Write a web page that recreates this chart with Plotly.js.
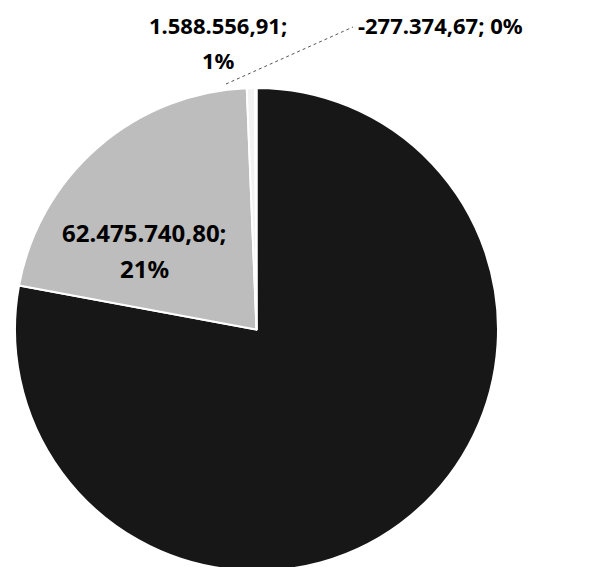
<!DOCTYPE html>
<html><head><meta charset="utf-8">
<script src="https://cdn.plot.ly/plotly-3.0.1.min.js"></script>
<style>html,body{margin:0;padding:0;overflow:hidden;background:#fff}#chart{width:597px;height:571px}</style>
</head><body><div id="chart"></div>
<script>
// Data (dark slice value is not labelled in the reference; estimated from its angle)
const categories = ['Série 1', 'Série 2', 'Série 3', 'Série 4'];
const values = [227000000.00, 62475740.80, 1588556.91, -277374.67];
const valueLabels = ['', '62.475.740,80', '1.588.556,91', '-277.374,67'];
const colors = ['#171717', '#bdbdbd', '#f2f2f2', '#ffffff'];

const absVals = values.map(v => Math.abs(v));
const total = absVals.reduce((a, b) => a + b, 0);
const pcts = absVals.map(v => Math.round(v / total * 100) + '%');

const trace = {
  type: 'pie',
  labels: categories,
  values: absVals,
  textinfo: 'none',
  sort: false,
  direction: 'clockwise',
  rotation: 0,
  marker: {colors: colors, line: {color: '#ffffff', width: 2}},
  domain: {x: [15/597, 498/597], y: [0, 483/571]},
  hoverinfo: 'none',
  showlegend: false
};

const annFont = {family: 'Noto Sans, sans-serif', size: 22, color: '#000', weight: 'bold'};
const inFont = {family: 'Noto Sans, sans-serif', size: 24, color: '#000', weight: 'bold'};
const annotations = [
  {text: valueLabels[1] + ';', x: 144/597, y: 1 - 233/571, font: inFont},
  {text: pcts[1], x: 144/597, y: 1 - 268/571, font: inFont},
  {text: valueLabels[2] + ';', x: 218/597, y: 1 - 25/571},
  {text: pcts[2], x: 218/597, y: 1 - 60/571},
  {text: valueLabels[3] + '; ' + pcts[3], x: 440/597, y: 1 - 25/571}
].map(a => Object.assign({xref: 'paper', yref: 'paper', xanchor: 'center', yanchor: 'middle', showarrow: false, font: annFont}, a));

const layout = {
  width: 597, height: 571,
  margin: {l: 0, r: 0, t: 0, b: 0},
  paper_bgcolor: '#ffffff',
  annotations: annotations,
  shapes: [{type: 'line', xref: 'paper', yref: 'paper', x0: 226/597, y0: 1 - 84/571, x1: 353/597, y1: 1 - 27/571,
            line: {color: '#555', width: 1, dash: 'dot'}}]
};

Plotly.newPlot('chart', [trace], layout, {displayModeBar: false, staticPlot: true});
</script></body></html>
